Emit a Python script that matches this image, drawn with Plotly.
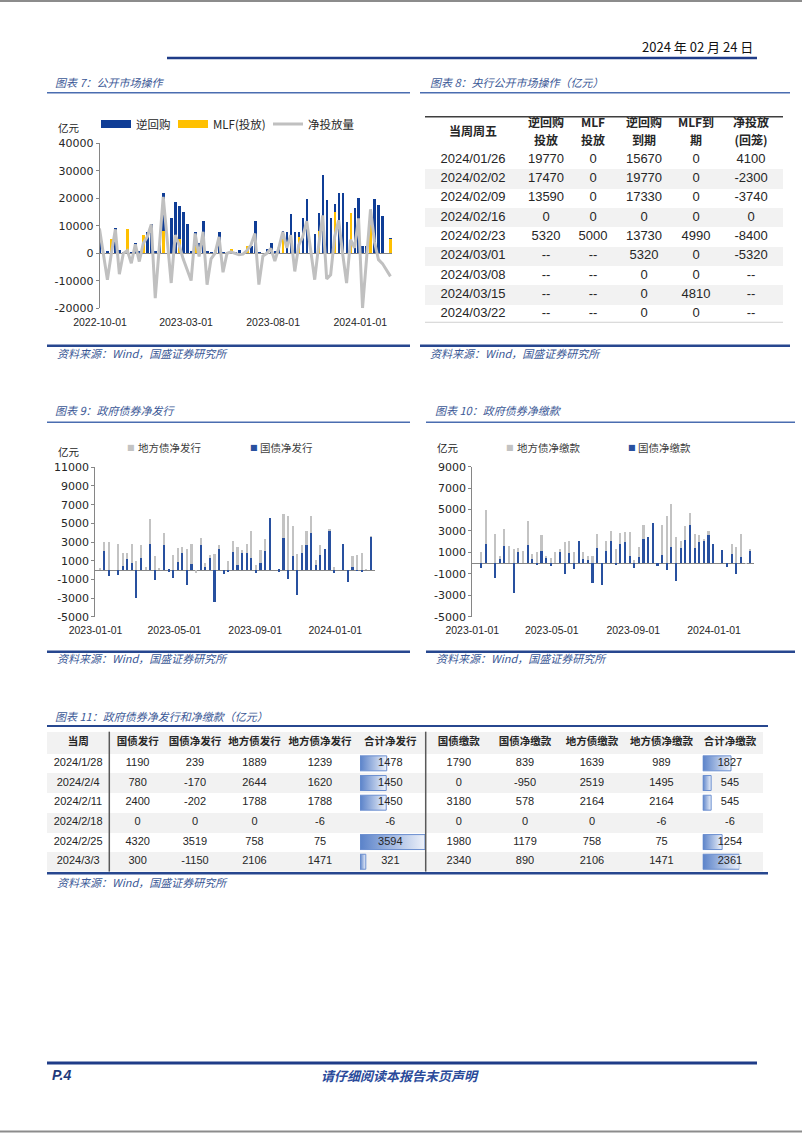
import plotly.graph_objects as go
import pandas as pd

W, H = 802, 1133

# ------------------------------------------------------------------ data
# 图表7 公开市场操作 (weekly, Fridays, 亿元)
omo_start = "2022-09-30"
omo_ticks = ["2022-10-01", "2023-03-01", "2023-08-01", "2024-01-01"]
y7_ticks = [-20000, -10000, 0, 10000, 20000, 30000, 40000]
rr_inject = [
    4800, 0, 800, 0, 9000, 1200, 300, 0, 300, 3600,
    500, 0, 7800, 10500, 800, 3000, 21900, 0, 12700, 18700,
    17100, 15000, 10500, 500, 7500, 3600, 11800, 800, 300, 500,
    7500, 300, 0, 0, 300, 1000, 0, 0, 2400, 11700,
    300, 0, 1500, 3600, 600, 1500, 8000, 7500, 14200, 7600,
    7500, 12700, 19500, 0, 6900, 14700, 28500, 19300, 12900, 18000,
    22000, 21700, 11200, 12000, 16300, 19900, 2600, 2600, 0, 19770,
    17470, 13590, 0, 5320]
mlf_inject = [
    0, 0, 0, 5200, 0, 0, 0, 8700, 0, 0,
    0, 6600, 0, 0, 0, 0, 8000, 0, 0, 0,
    5000, 0, 0, 0, 2500, 0, 0, 0, 0, 1200,
    0, 0, 0, 1500, 0, 0, 0, 2600, 0, 0,
    0, 0, 0, 0, 0, 0, 6400, 0, 0, 0,
    6000, 0, 0, 0, 0, 8000, 0, 0, 0, 14800,
    0, 0, 0, 14700, 0, 0, 0, 0, 15000, 0,
    0, 0, 0, 5000]
net_inject = [
    9000, 0, -9600, 0, 8700, -7600, 0, 1000, -3600, 3300,
    -3000, 3600, 6000, 10500, -16300, 2000, 20500, 5000, -10800, 6600,
    3000, -2000, -6000, -9900, 7200, -1200, 7800, -11400, -2000, 0,
    6000, -6900, 0, 500, 0, -500, -300, 1000, 3000, 7200,
    -11400, -1000, 0, 1800, -2800, 2000, 7800, 2000, 6600, -6600,
    3000, 6000, 11700, 1000, -9600, 3000, 13800, -9300, -7800, 6000,
    12000, 0, -10800, 5000, 2000, 12700, -19900, -2000, 16000, 4100,
    -2300, -3740, -6000, -8400]

# 图表9 / 图表10 (weekly, Sundays, 亿元)
gov_start = "2023-01-01"
gov_ticks = ["2023-01-01", "2023-05-01", "2023-09-01", "2024-01-01"]
y9_ticks = [-5000, -3000, -1000, 1000, 3000, 5000, 7000, 9000, 11000]
y10_ticks = [-5000, -3000, -1000, 1000, 3000, 5000, 7000, 9000]
ntl_net_issue = [
    0, 0, 2000, -700, 0, -600, 400, 1100, 700, -3000,
    1300, 0, 2800, -1100, 0, 2700, -200, -900, 800, 1800,
    -1600, 600, 0, 2600, 300, 1300, -3500, 2200, -500, -200,
    1900, 500, 1800, 1800, 1300, -300, 700, 2000, 5500, 0,
    -200, 3400, -1000, 1500, -2700, 1800, 2700, 3900, 500, 1600,
    2200, 4100, -400, 0, 2800, -1300, 239, -170, -202, 0,
    3519]
loc_net_issue = [
    0, 200, 1000, 3000, 0, 2800, 1400, 700, 2100, 900,
    1300, 300, 2600, 1500, 200, 1200, 0, 1600, 1500, 600,
    2200, 2200, -400, 800, 400, 300, 1700, 500, 0, 900,
    1200, 1900, 300, 1000, 2900, 500, 1400, 1300, 0, 0,
    0, 2600, 5700, 3200, 1700, 800, 1400, 1900, 500, 1000,
    0, 300, 300, 0, 0, 0, 1239, 1620, 1788, -6,
    75]
ntl_net_pay = [
    0, 0, -470, 1780, 0, -1340, 400, 1600, 0, -2800,
    1100, 0, 1700, 400, -150, 1180, 590, -250, 0, 1100,
    -1000, 930, -560, 2120, 370, 310, -1870, 1460, -2020, 1180,
    2090, -150, 1800, 2000, 690, -400, 560, 2240, 2460, 3740,
    -220, 780, -620, 1530, -1650, 1400, 2180, 3580, 1400, 1960,
    2120, 2650, 1800, 0, 1250, -370, 839, -950, 578, 0,
    1179]
loc_net_pay = [
    0, 0, 1100, 3220, 0, 2740, 290, 1600, 1600, 1340,
    360, 1150, 2250, 470, 1100, 1470, 30, 470, 1030, 240,
    1960, 1190, 1030, 0, 730, 380, 690, 1280, 0, 920,
    910, 1340, 1000, 900, 2210, 340, 940, 1340, 0, 0,
    0, 2800, 4420, 3980, 2490, 720, 1340, 1090, 1340, 660,
    120, 370, 0, 0, 0, 0, 989, 1495, 2164, -6,
    75]

# 图表8 央行公开市场操作（亿元）
t8_header_first = "当周周五"
t8_header_top = ["逆回购", "MLF", "逆回购", "MLF到", "净投放"]
t8_header_bottom = ["投放", "投放", "到期", "期", "(回笼)"]
t8_dates = ["2024/01/26", "2024/02/02", "2024/02/09", "2024/02/16", "2024/02/23",
            "2024/03/01", "2024/03/08", "2024/03/15", "2024/03/22"]
t8_rr_in = ["19770", "17470", "13590", "0", "5320", "--", "--", "--", "--"]
t8_mlf_in = ["0", "0", "0", "0", "5000", "--", "--", "--", "--"]
t8_rr_due = ["15670", "19770", "17330", "0", "13730", "5320", "0", "0", "0"]
t8_mlf_due = ["0", "0", "0", "0", "4990", "0", "0", "4810", "0"]
t8_net = ["4100", "-2300", "-3740", "0", "-8400", "-5320", "--", "--", "--"]

# 图表11 政府债券净发行和净缴款（亿元）
t11_header = ["当周", "国债发行", "国债净发行", "地方债发行", "地方债净发行", "合计净发行",
              "国债缴款", "国债净缴款", "地方债缴款", "地方债净缴款", "合计净缴款"]
t11_weeks = ["2024/1/28", "2024/2/4", "2024/2/11", "2024/2/18", "2024/2/25", "2024/3/3"]
t11_ntl_issue = [1190, 780, 2400, 0, 4320, 300]
t11_ntl_net_issue = [239, -170, -202, 0, 3519, -1150]
t11_loc_issue = [1889, 2644, 1788, 0, 758, 2106]
t11_loc_net_issue = [1239, 1620, 1788, -6, 75, 1471]
t11_tot_net_issue = [1478, 1450, 1450, -6, 3594, 321]
t11_ntl_pay = [1790, 0, 3180, 0, 1980, 2340]
t11_ntl_net_pay = [839, -950, 578, 0, 1179, 890]
t11_loc_pay = [1639, 2519, 2164, 0, 758, 2106]
t11_loc_net_pay = [989, 1495, 2164, -6, 75, 1471]
t11_tot_net_pay = [1827, 545, 545, -6, 1254, 2361]

# ------------------------------------------------------------------ style
BLUE7 = "#0f3d96"
YELLOW = "#ffc000"
GRAYL = "#c0c0c0"
BLUE9 = "#28509f"
GRAY9 = "#c3c3c3"
AX = "#868686"
TXT = "#262626"
TITLE_C = "#3b5896"
LINE_MID = "#4a6db0"
LINE_DARK = "#27478f"
CJK = "Noto Sans CJK SC, sans-serif"
NUM = "Liberation Sans, Noto Sans CJK SC, sans-serif"
TICKY = dict(family="DejaVu Sans, sans-serif", size=11, color=TXT)
TICKX = dict(family="Liberation Sans, sans-serif", size=10.5, color=TXT)


def px(x):
    return x / W


def py(y):
    return 1 - y / H


def date_span(anchor, anchor_px, x0, x1, scale):
    a = pd.Timestamp(anchor)
    f = "%Y-%m-%d %H:%M:%S"
    return [(a + pd.Timedelta(days=(x0 - anchor_px) / scale)).strftime(f),
            (a + pd.Timedelta(days=(x1 - anchor_px) / scale)).strftime(f)]


DAY_MS = 86400000
omo_weeks = pd.date_range(omo_start, periods=len(rr_inject), freq="7D")
gov_weeks = pd.date_range(gov_start, periods=len(ntl_net_issue), freq="7D")

fig = go.Figure()

# ------------------------------------------------------------------ chart 7
fig.add_trace(go.Bar(x=omo_weeks, y=rr_inject, base=0, width=4.8 * DAY_MS,
                     marker=dict(color=BLUE7, line=dict(width=0)),
                     xaxis="x", yaxis="y", showlegend=False))
fig.add_trace(go.Bar(x=omo_weeks, y=mlf_inject, base=0, width=4.8 * DAY_MS,
                     marker=dict(color=YELLOW, line=dict(width=0)),
                     xaxis="x", yaxis="y", showlegend=False))
fig.add_trace(go.Scatter(x=omo_weeks, y=net_inject, mode="lines",
                         line=dict(color=GRAYL, width=3),
                         xaxis="x", yaxis="y", name="净投放量", legend="legend3"))
fig.add_trace(go.Scatter(x=[None], y=[None], mode="lines", line=dict(color=BLUE7, width=8),
                         xaxis="x", yaxis="y", name="逆回购", legend="legend"))
fig.add_trace(go.Scatter(x=[None], y=[None], mode="lines", line=dict(color=YELLOW, width=8),
                         xaxis="x", yaxis="y", name="MLF(投放)", legend="legend2"))

# ------------------------------------------------------------------ chart 9 / 10
for xa, ya, ntl, loc in (("x2", "y2", ntl_net_issue, loc_net_issue),
                         ("x3", "y3", ntl_net_pay, loc_net_pay)):
    fig.add_trace(go.Bar(x=gov_weeks, y=ntl, width=2.4 * DAY_MS,
                         marker=dict(color=BLUE9, line=dict(width=0)),
                         xaxis=xa, yaxis=ya, showlegend=False))
    fig.add_trace(go.Bar(x=gov_weeks, y=loc, width=2.4 * DAY_MS,
                         marker=dict(color=GRAY9, line=dict(width=0)),
                         xaxis=xa, yaxis=ya, showlegend=False))

# ------------------------------------------------------------------ table 8
t8_colw = [96, 50, 44, 58, 46, 64]
t8_left, t8_top, t8_hdr_px, t8_row_px = 425, 116.7, 33, 19.34
t8_cols = [t8_dates, t8_rr_in, t8_mlf_in, t8_rr_due, t8_mlf_due, t8_net]
n8 = len(t8_dates)
hdr8 = t8_hdr_px / t8_row_px
line_gap8 = 17.5 / t8_row_px          # vertical distance between the two header lines
cx8 = [sum(t8_colw[:i]) + t8_colw[i] / 2 for i in range(len(t8_colw))]
band8 = [r + 0.5 for r in range(n8) if r % 2 == 1]
fig.add_trace(go.Bar(y=band8, x=[sum(t8_colw)] * len(band8), base=0, width=1, orientation="h",
                     marker=dict(color="#f2f2f2", line=dict(width=0)),
                     xaxis="x4", yaxis="y4", showlegend=False))
hdr_font8 = dict(family=CJK, size=12, color=TXT)
fig.add_trace(go.Scatter(x=[cx8[0]], y=[-hdr8 / 2], mode="text",
                         text=["<b>" + t8_header_first + "</b>"], textfont=hdr_font8,
                         xaxis="x4", yaxis="y4", showlegend=False, cliponaxis=False))
fig.add_trace(go.Scatter(x=cx8[1:], y=[-hdr8 / 2 - line_gap8 / 2] * len(t8_header_top),
                         mode="text", text=["<b>" + h + "</b>" for h in t8_header_top],
                         textfont=hdr_font8,
                         xaxis="x4", yaxis="y4", showlegend=False, cliponaxis=False))
fig.add_trace(go.Scatter(x=cx8[1:], y=[-hdr8 / 2 + line_gap8 / 2] * len(t8_header_bottom),
                         mode="text", text=["<b>" + h + "</b>" for h in t8_header_bottom],
                         textfont=hdr_font8,
                         xaxis="x4", yaxis="y4", showlegend=False, cliponaxis=False))
fig.add_trace(go.Scatter(
    x=[cx8[c] for r in range(n8) for c in range(len(t8_cols))],
    y=[r + 0.5 for r in range(n8) for c in range(len(t8_cols))],
    text=[t8_cols[c][r] for r in range(n8) for c in range(len(t8_cols))],
    mode="text", textfont=dict(family=NUM, size=13, color=TXT),
    xaxis="x4", yaxis="y4", showlegend=False, cliponaxis=False))

# ------------------------------------------------------------------ table 11
t11_colw = [62.3, 56.7, 58, 61, 70, 70.7, 66.3, 66, 68, 71, 66]
t11_left, t11_top, t11_hdr_px, t11_row_px = 47, 731.7, 21.8, 19.68
t11_cols = [t11_weeks, t11_ntl_issue, t11_ntl_net_issue, t11_loc_issue, t11_loc_net_issue,
            t11_tot_net_issue, t11_ntl_pay, t11_ntl_net_pay, t11_loc_pay, t11_loc_net_pay,
            t11_tot_net_pay]
n11 = len(t11_weeks)
hdr11 = t11_hdr_px / t11_row_px
cx11 = [sum(t11_colw[:i]) + t11_colw[i] / 2 for i in range(len(t11_colw))]
band11_y = [-hdr11 / 2] + [r + 0.5 for r in range(n11) if r % 2 == 1]
band11_w = [hdr11] + [1] * (len(band11_y) - 1)
fig.add_trace(go.Bar(y=band11_y, x=[sum(t11_colw)] * len(band11_y), base=0, width=band11_w,
                     orientation="h", marker=dict(color="#f2f2f2", line=dict(width=0)),
                     xaxis="x5", yaxis="y5", showlegend=False))

# in-cell data bars (合计净发行 / 合计净缴款)
for xa, vals in (("x6", t11_tot_net_issue), ("x7", t11_tot_net_pay)):
    for r, v in enumerate(vals):
        if v <= 0:
            continue
        yc = r + 0.5
        fig.add_trace(go.Scatter(
            x=[0, v, v, 0, 0], y=[yc - 0.38, yc - 0.38, yc + 0.38, yc + 0.38, yc - 0.38],
            mode="lines", fill="toself",
            fillgradient=dict(type="horizontal",
                              colorscale=[[0, "#5a82c9"], [1, "#eef2fa"]]),
            line=dict(color="#6b8fd0", width=1),
            xaxis=xa, yaxis="y5", showlegend=False, hoverinfo="skip"))

fig.add_trace(go.Scatter(x=cx11, y=[-hdr11 / 2] * len(cx11), mode="text",
                         text=["<b>" + h + "</b>" for h in t11_header],
                         textfont=dict(family=CJK, size=10.5, color=TXT),
                         xaxis="x8", yaxis="y5", showlegend=False, cliponaxis=False))
fig.add_trace(go.Scatter(
    x=[cx11[c] for r in range(n11) for c in range(len(t11_cols))],
    y=[r + 0.5 for r in range(n11) for c in range(len(t11_cols))],
    text=[str(t11_cols[c][r]) for r in range(n11) for c in range(len(t11_cols))],
    mode="text", textfont=dict(family=NUM, size=11, color=TXT),
    xaxis="x8", yaxis="y5", showlegend=False, cliponaxis=False))

# ------------------------------------------------------------------ layout / axes
hidden = dict(visible=False, showgrid=False, zeroline=False, fixedrange=True)
ycommon = dict(showline=True, linecolor=AX, linewidth=1, ticks="outside", ticklen=3,
               tickcolor=AX, showgrid=False, zeroline=True, zerolinecolor=AX,
               zerolinewidth=1, tickfont=TICKY, fixedrange=True, automargin=False)
xcommon = dict(type="date", showline=False, showgrid=False, zeroline=False, ticks="",
               tickfont=TICKX, ticklabelstandoff=6, fixedrange=True, automargin=False)

t8_w = sum(t8_colw)
t11_w = sum(t11_colw)
t8_bottom = t8_top + t8_hdr_px + n8 * t8_row_px
t11_bottom = t11_top + t11_hdr_px + n11 * t11_row_px

legend_base = dict(orientation="h", xanchor="left", yanchor="middle",
                   bgcolor="rgba(0,0,0,0)", borderwidth=0, itemwidth=30,
                   font=dict(family=CJK, size=11.5, color=TXT),
                   itemclick=False, itemdoubleclick=False)

fig.update_layout(
    width=W, height=H, margin=dict(l=0, r=0, t=0, b=0, pad=0, autoexpand=False),
    autosize=False,
    paper_bgcolor="white", plot_bgcolor="rgba(0,0,0,0)",
    barmode="relative", bargap=0, hovermode=False,
    font=dict(family=NUM, color=TXT),
    legend=dict(x=px(96), y=py(124), **legend_base),
    legend2=dict(x=px(173), y=py(124), **legend_base),
    legend3=dict(x=px(268), y=py(124), **legend_base),
    # chart 7
    xaxis=dict(domain=[px(99.7), px(392)], anchor="y",
               range=date_span("2022-10-01", 100, 99.7, 392, 0.5695),
               tickvals=omo_ticks, ticktext=omo_ticks, **xcommon),
    yaxis=dict(domain=[py(308.3), py(143.3)], anchor="x", range=[-20000, 40000],
               tickvals=y7_ticks, ticktext=[str(v) for v in y7_ticks], **ycommon),
    # chart 9
    xaxis2=dict(domain=[px(95.3), px(375)], anchor="y2",
                range=date_span("2023-01-01", 95.5, 95.3, 375, 0.657),
                tickvals=gov_ticks, ticktext=gov_ticks, **xcommon),
    yaxis2=dict(domain=[py(616.7), py(467.3)], anchor="x2", range=[-5000, 11000],
                tickvals=y9_ticks, ticktext=[str(v) for v in y9_ticks], **ycommon),
    # chart 10
    xaxis3=dict(domain=[px(472.1), px(754)], anchor="y3",
                range=date_span("2023-01-01", 472.3, 472.1, 754, 0.6625),
                tickvals=gov_ticks, ticktext=gov_ticks, **xcommon),
    yaxis3=dict(domain=[py(616.7), py(466.7)], anchor="x3", range=[-5000, 9000],
                tickvals=y10_ticks, ticktext=[str(v) for v in y10_ticks], **ycommon),
    # table 8
    xaxis4=dict(domain=[px(t8_left), px(t8_left + t8_w)], anchor="y4", range=[0, t8_w], **hidden),
    yaxis4=dict(domain=[py(t8_bottom), py(t8_top)], anchor="x4", range=[n8, -hdr8], **hidden),
    # table 11
    xaxis5=dict(domain=[px(t11_left), px(t11_left + t11_w)], anchor="y5", range=[0, t11_w], **hidden),
    yaxis5=dict(domain=[py(t11_bottom), py(t11_top)], anchor="x5", range=[n11, -hdr11], **hidden),
    xaxis6=dict(domain=[px(360), px(425)], anchor="y5",
                range=[0, max(t11_tot_net_issue)], **hidden),
    xaxis7=dict(domain=[px(702.7), px(739.3)], anchor="y5",
                range=[0, max(t11_tot_net_pay)], **hidden),
    xaxis8=dict(domain=[px(t11_left), px(t11_left + t11_w)], anchor="y5", range=[0, t11_w], **hidden),
)

# ------------------------------------------------------------------ page furniture
def hline(y, x0, x1, color, width):
    return dict(type="line", xref="paper", yref="paper", x0=px(x0), x1=px(x1),
                y0=py(y), y1=py(y), line=dict(color=color, width=width))


def vline(x, y0, y1, color, width):
    return dict(type="line", xref="paper", yref="paper", x0=px(x), x1=px(x),
                y0=py(y0), y1=py(y1), line=dict(color=color, width=width))


shapes = [
    hline(1, 0, 802, "#8c8c8c", 2),
    hline(1131.5, 0, 802, "#8c8c8c", 2),
    hline(58, 167, 757, "#1f3c88", 2.5),
    hline(92.7, 47, 410, LINE_MID, 1.5),
    hline(92.7, 420, 790, LINE_MID, 1.5),
    hline(345.7, 47, 410, LINE_DARK, 2.5),
    hline(345.7, 420, 790, LINE_DARK, 2.5),
    hline(t8_top, t8_left, t8_left + t8_w, "#3f3f3f", 1.5),
    hline(t8_bottom - 1.5, t8_left, t8_left + t8_w, "#d0d0d0", 1),
    hline(422.3, 47, 410, LINE_MID, 1.5),
    hline(422.3, 426, 795, LINE_MID, 1.5),
    hline(651.7, 47, 410, LINE_DARK, 2.5),
    hline(651.7, 426, 795, LINE_DARK, 2.5),
    hline(726, 47, 768, LINE_DARK, 2),
    hline(873.3, 47, 768, LINE_DARK, 2.5),
    vline(t11_left + t11_colw[0], t11_top, t11_bottom, "#595959", 1.5),
    vline(t11_left + sum(t11_colw[:6]), t11_top, t11_bottom, "#595959", 1.5),
    hline(1063, 47, 757, "#1f3c88", 3),
]


def note(x, y, text, size=11, color=TITLE_C, anchor="left", family=CJK):
    return dict(xref="paper", yref="paper", x=px(x), y=py(y), text=text, showarrow=False,
                xanchor=anchor, yanchor="middle", font=dict(family=family, size=size, color=color))


src = "<i>资料来源：Wind，国盛证券研究所</i>"
annotations = [
    note(755, 47, "2024 年 02 月 24 日", size=13, color="#111111", anchor="right"),
    note(53, 81.7, "<i>图表 7：公开市场操作</i>"),
    note(428, 81.7, "<i>图表 8：央行公开市场操作（亿元）</i>"),
    note(53, 410, "<i>图表 9：政府债券净发行</i>"),
    note(433, 410, "<i>图表 10：政府债券净缴款</i>"),
    note(53, 715.5, "<i>图表 11：政府债券净发行和净缴款（亿元）</i>"),
    note(55, 353.3, src),
    note(428, 353.3, src),
    note(55, 658.3, src),
    note(434, 658.3, src),
    note(55, 881.7, src),
    note(69, 127, "亿元", size=10.5, color=TXT, anchor="center"),
    note(69, 452, "亿元", size=10.5, color=TXT, anchor="center"),
    note(448, 448, "亿元", size=10.5, color=TXT, anchor="center"),
    # chart 9 / 10 legends
    note(131, 447.3, "■", size=8, color=GRAY9, anchor="center", family="DejaVu Sans"),
    note(136, 447.3, "地方债净发行", size=10.5, color="#404040"),
    note(253.5, 447.3, "■", size=8, color=BLUE9, anchor="center", family="DejaVu Sans"),
    note(258, 447.3, "国债净发行", size=10.5, color="#404040"),
    note(510, 447.3, "■", size=8, color=GRAY9, anchor="center", family="DejaVu Sans"),
    note(515, 447.3, "地方债净缴款", size=10.5, color="#404040"),
    note(632, 447.3, "■", size=8, color=BLUE9, anchor="center", family="DejaVu Sans"),
    note(636, 447.3, "国债净缴款", size=10.5, color="#404040"),
    # footer
    note(50, 1075, "<b><i>P.4</i></b>", size=14, color="#1f3a7a", family="Liberation Sans"),
    note(400, 1075, "<b><i>请仔细阅读本报告末页声明</i></b>", size=13, color="#2a4a9a", anchor="center"),
]

fig.update_layout(shapes=shapes, annotations=annotations)

fig.write_html("out.html", config={"displayModeBar": False},
               post_script="document.body.style.margin='0';")
